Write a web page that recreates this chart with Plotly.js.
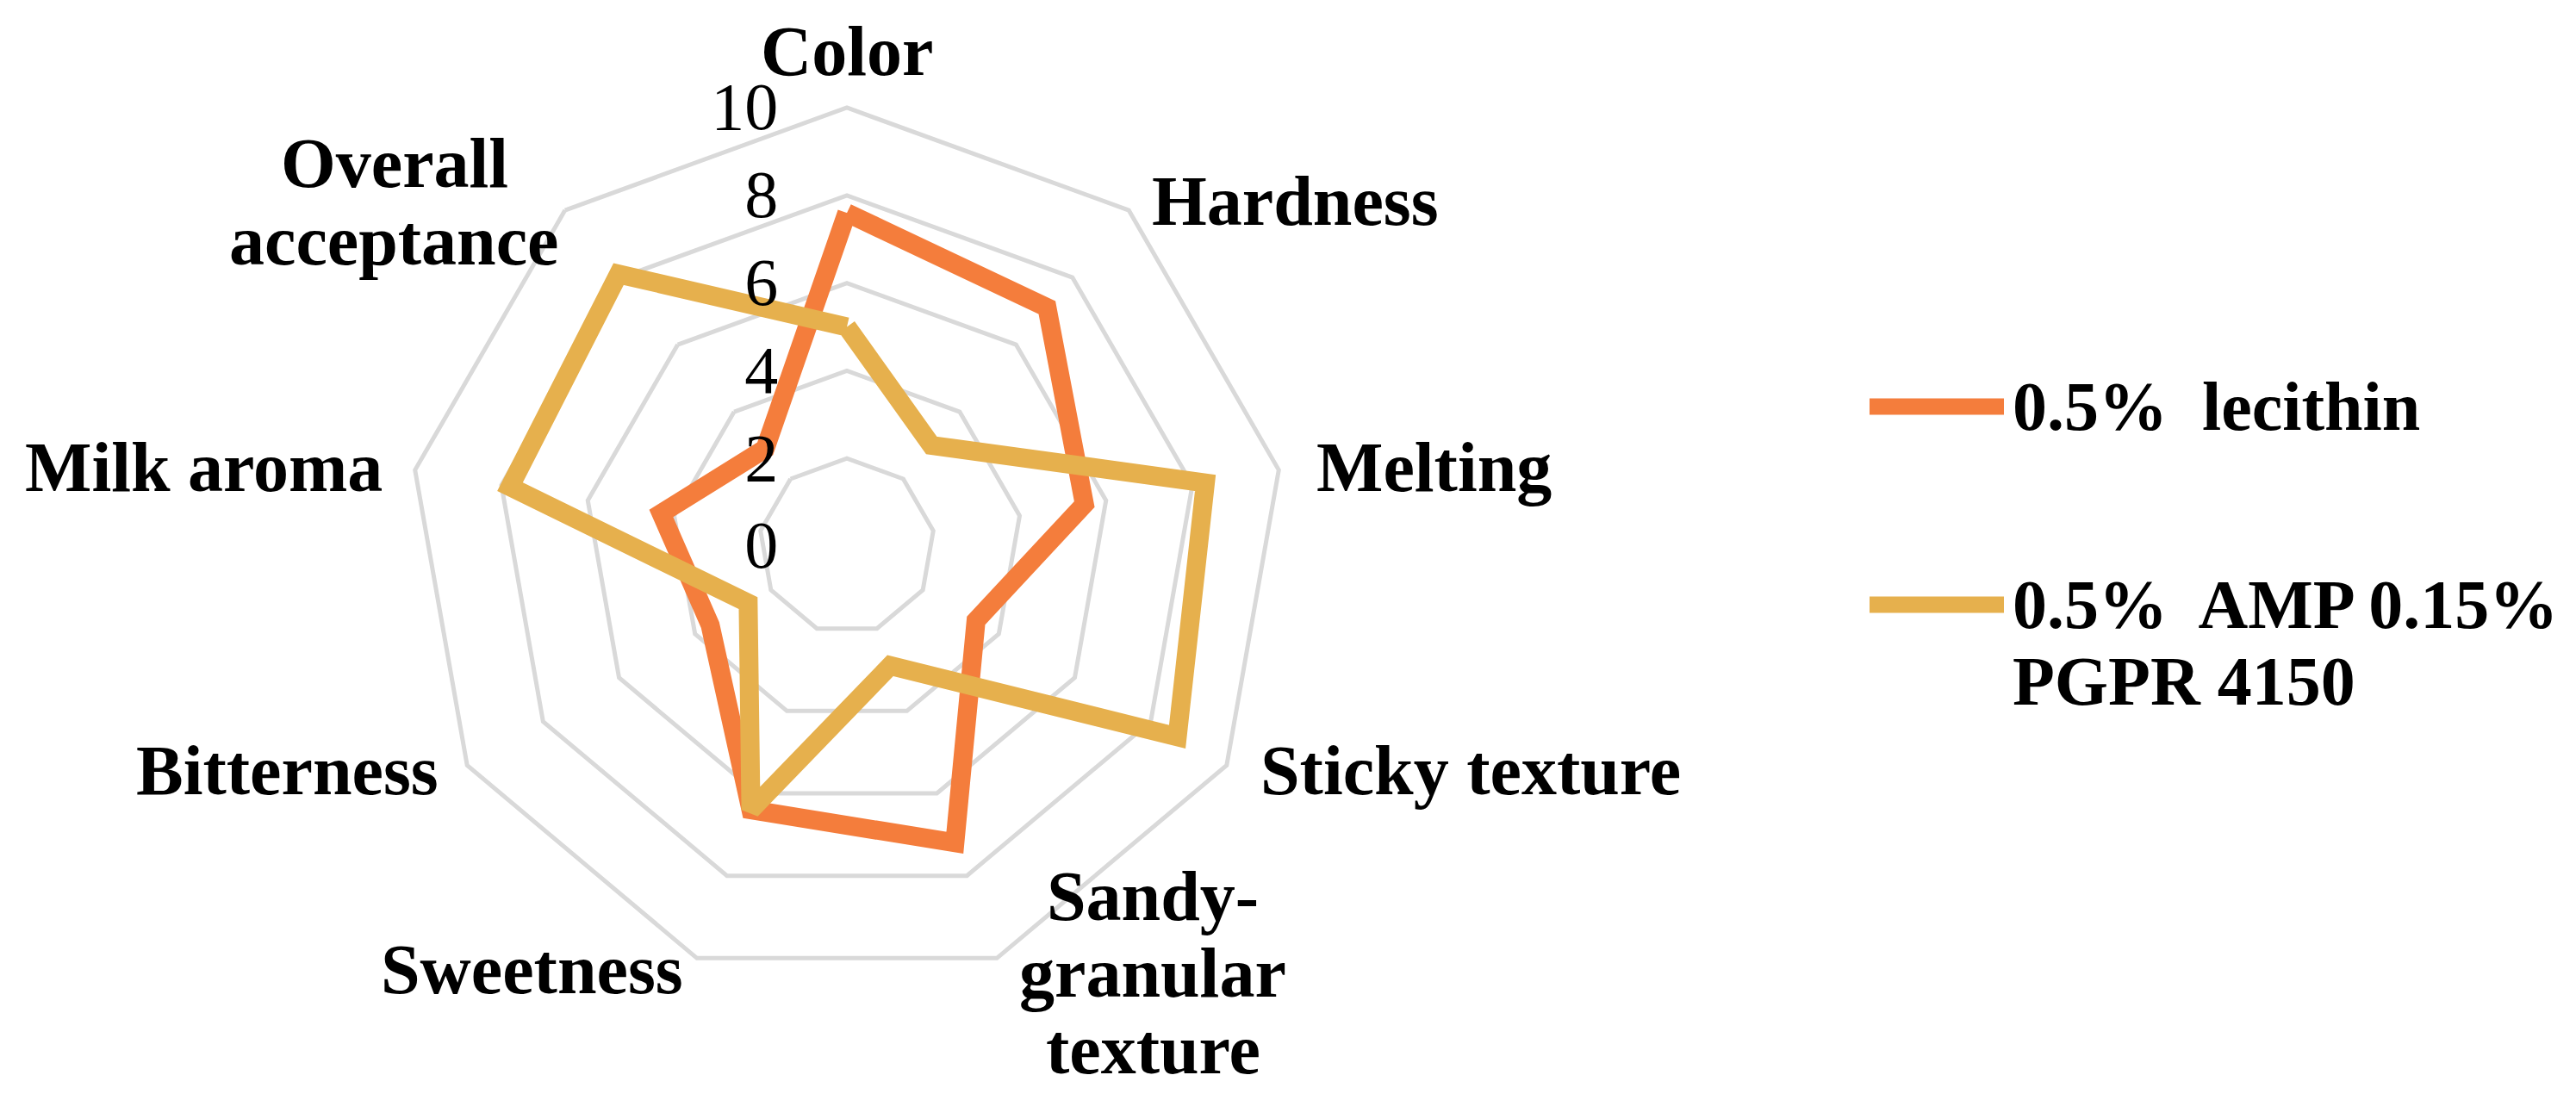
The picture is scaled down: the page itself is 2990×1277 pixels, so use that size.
<!DOCTYPE html>
<html>
<head>
<meta charset="utf-8">
<script src="https://cdn.plot.ly/plotly-3.0.1.min.js"></script>
<style>
  html, body { margin: 0; padding: 0; background: #fff; }
  #plot { width: 2990px; height: 1277px; }
</style>
</head>
<body>
<div id="plot"></div>
<script>
// Sensory attributes, clockwise from the top
var attributes = ['Color', 'Hardness', 'Melting', 'Sticky texture', 'Sandy-granular texture',
                  'Sweetness', 'Bitterness', 'Milk aroma', 'Overall acceptance'];
// the same names split the way the figure wraps them
var attributeLines = [['Color'], ['Hardness'], ['Melting'], ['Sticky texture'],
                      ['Sandy-', 'granular', 'texture'], ['Sweetness'], ['Bitterness'],
                      ['Milk aroma'], ['Overall', 'acceptance']];

// Scores (0-10 scale)
var lecithinScores = [7.6, 7.1, 5.5, 3.4, 7.2, 6.4, 3.6, 4.3, 2.9];
var ampPgprScores = [5.0, 3.0, 8.3, 8.7, 2.9, 6.4, 2.6, 7.8, 8.1];

var seriesNames = ['0.5% lecithin', '0.5% AMP 0.15% PGPR 4150'];
var legendLines = [['0.5%\u00a0 lecithin'], ['0.5%\u00a0 AMP 0.15%', 'PGPR 4150']];
var seriesColors = ['#F47D3C', '#E6B04D'];

var radialTicks = [0, 2, 4, 6, 8, 10];

// repeat the first point so each polygon closes
function closed(arr) {
    return arr.concat([arr[0]]);
}

var traces = [lecithinScores, ampPgprScores].map(function (scores, i) {
    return {
        type: 'scatterpolar',
        mode: 'lines',
        name: seriesNames[i],
        r: closed(scores),
        theta: closed(attributes),
        line: { color: seriesColors[i], width: 22 },
        hoverinfo: 'name+r'
    };
});

var W = 2990, H = 1277;
var gridGray = '#d9d9d9';
var serif = 'Liberation Serif, Times New Roman, serif';
var lineGap = 89;   // line spacing of wrapped labels, px

function px(x) { return x / W; }
function py(y) { return 1 - y / H; }

var annotations = [];

// Category labels placed around the web (anchor point in px, first line)
var labelSpots = [
    { x: 983, y: 60, xa: 'center' },
    { x: 1335, y: 233, xa: 'left' },
    { x: 1526, y: 543, xa: 'left' },
    { x: 1461, y: 894, xa: 'left' },
    { x: 1338, y: 1040, xa: 'center' },
    { x: 795, y: 1125, xa: 'right' },
    { x: 511, y: 894, xa: 'right' },
    { x: 446, y: 542, xa: 'right' },
    { x: 458, y: 190, xa: 'center' }
];
attributeLines.forEach(function (lines, i) {
    var spot = labelSpots[i];
    lines.forEach(function (txt, j) {
        annotations.push({
            xref: 'paper', yref: 'paper',
            x: px(spot.x), y: py(spot.y + j * lineGap),
            xanchor: spot.xa, yanchor: 'middle',
            text: '<b>' + txt + '</b>', showarrow: false,
            font: { family: serif, size: 82, color: '#000' }
        });
    });
});

// Legend drawn by hand so the line samples are long and thick like the original
var shapes = [];
var legendRowsY = [472, 702];
legendLines.forEach(function (lines, i) {
    shapes.push({
        type: 'line', xref: 'paper', yref: 'paper',
        x0: px(2170), x1: px(2326), y0: py(legendRowsY[i]), y1: py(legendRowsY[i]),
        line: { color: seriesColors[i], width: 19 }
    });
    lines.forEach(function (txt, j) {
        annotations.push({
            xref: 'paper', yref: 'paper',
            x: px(2334), y: py(legendRowsY[i] + j * lineGap),
            xanchor: 'left', yanchor: 'middle',
            text: '<b>' + txt + '</b>', showarrow: false,
            font: { family: serif, size: 80, color: '#000' }
        });
    });
});

var layout = {
    width: W,
    height: H,
    margin: { l: 0, r: 0, t: 0, b: 0 },
    paper_bgcolor: '#ffffff',
    showlegend: false,
    polar: {
        domain: { x: [0.15853, 0.49900], y: [0.10493, 0.90211] },
        gridshape: 'linear',
        bgcolor: 'rgba(0,0,0,0)',
        radialaxis: {
            range: [0, 10],
            tickvals: radialTicks,
            angle: 90,
            tickangle: 90,
            side: 'counterclockwise',
            showline: false,
            ticks: 'outside',
            ticklen: 52,
            tickcolor: 'rgba(0,0,0,0)',
            gridcolor: gridGray,
            gridwidth: 5,
            tickfont: { family: serif, size: 78, color: '#000' }
        },
        angularaxis: {
            direction: 'clockwise',
            rotation: 90,
            showgrid: false,
            showline: true,
            linecolor: gridGray,
            linewidth: 5,
            ticks: '',
            showticklabels: false
        }
    },
    shapes: shapes,
    annotations: annotations
};

var config = { responsive: false, displayModeBar: false };

var plotElement = document.getElementById('plot');
if (plotElement) {
    Plotly.newPlot('plot', traces, layout, config);
} else {
    console.error("No DOM element with id 'plot' exists on the page.");
}
</script>
</body>
</html>
